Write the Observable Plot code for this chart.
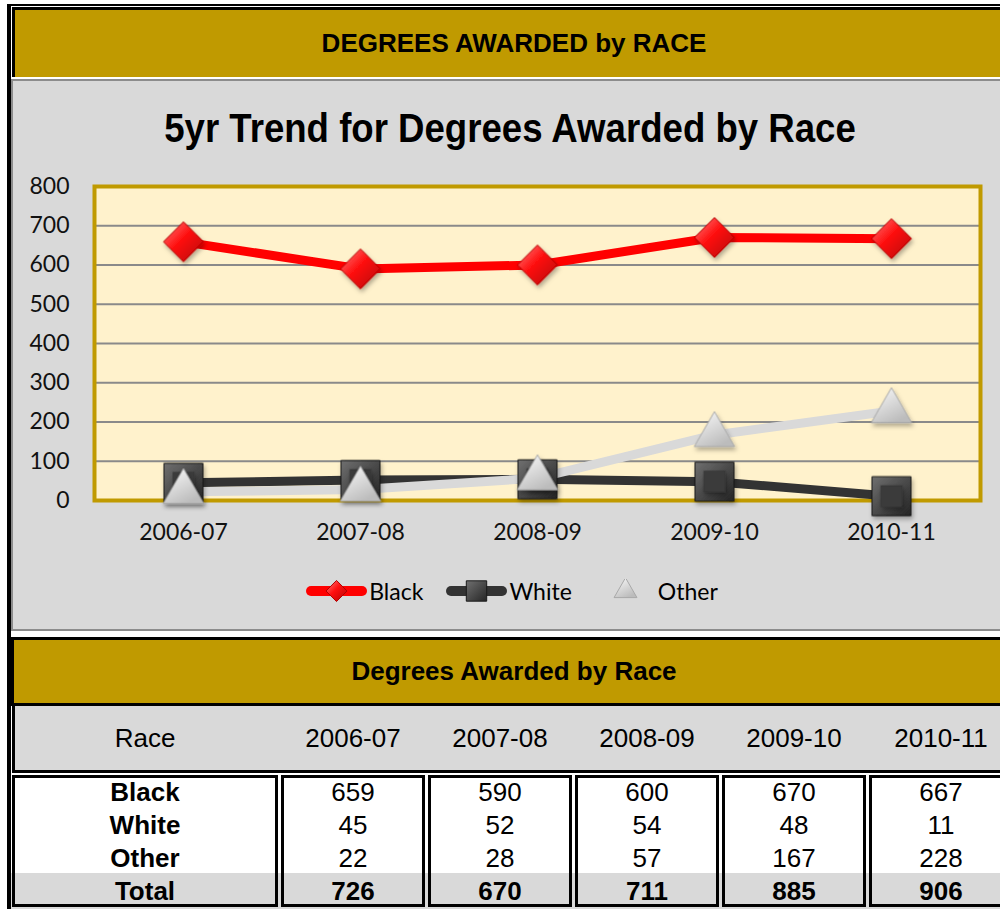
<!DOCTYPE html>
<html>
<head>
<meta charset="utf-8">
<script src="https://cdn.jsdelivr.net/npm/d3@7"></script>
<script src="https://cdn.jsdelivr.net/npm/@observablehq/plot@0.6"></script>
<style>
html,body{margin:0;padding:0;background:#fff;}
body{position:relative;width:1000px;height:909px;overflow:hidden;font-family:"Liberation Sans",Arial,sans-serif;color:#000;}
.a{position:absolute;box-sizing:content-box;}
.gold{background:#C09A00;}
.gray{background:#D9D9D9;}
.hdr{font-weight:bold;font-size:26px;text-align:center;white-space:nowrap;}
.cell{position:absolute;text-align:center;font-size:26px;height:33px;line-height:33px;white-space:nowrap;}
.box{position:absolute;box-sizing:border-box;border:3px solid #000;}
#ctitle{position:absolute;left:0;top:108px;width:1020px;height:40px;line-height:40px;font-size:40px;font-weight:bold;text-align:center;white-space:nowrap;transform:scaleX(0.915);transform-origin:510px 20px;}
#legend{position:absolute;left:0;top:579px;width:1024px;height:24px;display:flex;justify-content:center;align-items:center;font-family:Lato,sans-serif;font-size:23px;}
#legend .item{display:flex;align-items:center;height:24px;}
#legend .item span{margin-left:2px;line-height:24px;}
</style>
</head>
<body>
<div class="a" style="left:7px;top:4px;width:1010px;height:2px;background:#000"></div>
<div class="a" style="left:7px;top:4px;width:4px;height:905px;background:#000"></div>
<div class="a gold hdr" style="left:12px;top:7px;width:998px;height:67px;line-height:67px;border-top:3px solid #000;border-left:3px solid #000;">DEGREES AWARDED by RACE</div>
<div class="a gray" style="left:11px;top:79px;width:1010px;height:548px;border:2px solid #8c8c8c;"></div>
<div id="ctitle">5yr Trend for Degrees Awarded by Race</div>
<div class="a" id="chart" style="left:13px;top:170px"></div>
<div id="legend"></div>
<div class="a gold hdr" style="left:11px;top:637px;width:1000px;height:63px;line-height:63px;border-top:3px solid #000;border-bottom:3px solid #000;border-left:3px solid #000;">Degrees Awarded by Race</div>
<div class="a gray" style="left:12px;top:706px;width:1010px;height:64px;border-left:3px solid #000;border-bottom:3px solid #000;"></div>
<div class="a gray" style="left:11px;top:873px;width:1010px;height:36px;"></div>
<div id="table"></div>
<script>
// ---- data ----
const years = ["2006-07", "2007-08", "2008-09", "2009-10", "2010-11"];
const seriesNames = ["Black", "White", "Other"];
const black = [659, 590, 600, 670, 667];
const white = [45, 52, 54, 48, 11];
const other = [22, 28, 57, 167, 228];
const totals = [726, 670, 711, 885, 906];
const yTicks = [0, 100, 200, 300, 400, 500, 600, 700, 800];
const tableTitle = "Degrees Awarded by Race";
const raceHeader = "Race";
const totalLabel = "Total";

const seriesValues = [black, white, other];
const rows = seriesNames.flatMap((s, i) => years.map((yr, j) => ({series: s, year: yr, value: seriesValues[i][j]})));

// ---- styles ----
const seriesStyle = {
  Black: {line: "#FF0000", symbol: "diamond2", r: 18, fill: "url(#g-black)", stroke: "#b00000"},
  White: {line: "#333333", symbol: "square", r: 22, fill: "url(#g-white)", stroke: "#1a1a1a"},
  Other: {line: "#D9D9D9", symbol: "triangle", r: 15, fill: "url(#g-other)", stroke: "#a8a8a8"}
};

const marks = [
  Plot.frame({fill: "#FFF2CC"}),
  Plot.gridY({ticks: yTicks, stroke: "#8a8a8a", strokeOpacity: 1, strokeWidth: 2}),
  Plot.frame({stroke: "#C09A00", strokeWidth: 4}),
  Plot.axisX({tickSize: 0, tickPadding: 23, label: null}),
  Plot.axisY({ticks: yTicks, tickSize: 0, tickPadding: 25, label: null})
];
for (const s of seriesNames) {
  const st = seriesStyle[s];
  marks.push(Plot.line(rows.filter(d => d.series === s), {x: "year", y: "value", stroke: st.line, strokeWidth: 9, strokeLinejoin: "round", strokeLinecap: "butt"}));
}
for (const s of seriesNames) {
  const st = seriesStyle[s];
  const data = rows.filter(d => d.series === s);
  marks.push(Plot.dot(data, {x: "year", y: "value", symbol: st.symbol, r: st.r, fill: st.fill, stroke: st.stroke, strokeWidth: 1}));
  if (s === "White") marks.push(Plot.dot(data, {x: "year", y: "value", symbol: "square", r: 12, fill: "#3b3b3b", stroke: "#333", strokeWidth: 0.5}));
}

const chart = Plot.plot({
  width: 987,
  height: 380,
  marginLeft: 81,
  marginRight: 20,
  marginTop: 16,
  marginBottom: 50,
  style: {background: "transparent", fontFamily: "Lato, sans-serif", fontSize: "23px", color: "#111", overflow: "visible"},
  x: {type: "point", domain: years, padding: 0.5, label: null},
  y: {domain: [0, 800], label: null},
  marks
});

d3.select(chart).insert("defs", ":first-child").html(`
  <linearGradient id="g-black" x1="0" y1="0" x2="1" y2="1">
    <stop offset="0" stop-color="#ff8080"/><stop offset="0.45" stop-color="#ff1010"/><stop offset="1" stop-color="#b40000"/>
  </linearGradient>
  <linearGradient id="g-white" x1="0" y1="0" x2="1" y2="1">
    <stop offset="0" stop-color="#707070"/><stop offset="1" stop-color="#252525"/>
  </linearGradient>
  <linearGradient id="g-other" x1="0" y1="0" x2="0.6" y2="1">
    <stop offset="0" stop-color="#fcfcfc"/><stop offset="1" stop-color="#bcbcbc"/>
  </linearGradient>
  <filter id="sh" x="-50%" y="-50%" width="200%" height="200%">
    <feDropShadow dx="1.5" dy="3" stdDeviation="2" flood-color="#000" flood-opacity="0.3"/>
  </filter>`);
d3.select(chart).selectAll('g[aria-label="dot"]').attr("filter", "url(#sh)");
document.getElementById("chart").appendChild(chart);

// ---- legend ----
const legend = d3.select("#legend");
const legendR = {Black: 9.5, White: 11.5, Other: 8.5};
seriesNames.forEach((s, i) => {
  const st = seriesStyle[s];
  const item = legend.append("div").attr("class", "item").style("margin-right", i < seriesNames.length - 1 ? "23px" : "0px");
  const svg = item.append("svg").attr("width", 61).attr("height", 24);
  svg.append("line").attr("x1", 5).attr("x2", 56).attr("y1", 12).attr("y2", 12)
    .attr("stroke", st.line).attr("stroke-width", 10).attr("stroke-linecap", "round");
  const sym = {diamond2: d3.symbolDiamond2, square: d3.symbolSquare, triangle: d3.symbolTriangle}[st.symbol];
  svg.append("path").attr("transform", "translate(30.5,12)")
    .attr("d", d3.symbol(sym, Math.PI * legendR[s] ** 2)())
    .attr("fill", st.fill).attr("stroke", st.stroke).attr("stroke-width", 1);
  item.append("span").text(s);
});

// ---- table ----
const cols = [
  {l: 12, w: 266}, {l: 281, w: 144}, {l: 428, w: 144}, {l: 575, w: 144}, {l: 722, w: 144}, {l: 869, w: 144}
];
const table = d3.select("#table");
const headers = [raceHeader, ...years];
headers.forEach((h, i) => {
  table.append("div").attr("class", "cell")
    .style("left", cols[i].l + "px").style("width", cols[i].w + "px").style("top", "722px")
    .text(h);
});
cols.forEach(c => {
  table.append("div").attr("class", "box")
    .style("left", c.l + "px").style("width", c.w + "px").style("top", "775px").style("height", "132px");
});
const bodyRows = [
  {label: "Black", vals: black, bold: false},
  {label: "White", vals: white, bold: false},
  {label: "Other", vals: other, bold: false},
  {label: totalLabel, vals: totals, bold: true}
];
const rowCenters = [792, 825, 858, 891];
bodyRows.forEach((r, ri) => {
  const top = rowCenters[ri] - 16.5;
  table.append("div").attr("class", "cell")
    .style("left", cols[0].l + "px").style("width", cols[0].w + "px").style("top", top + "px")
    .style("font-weight", "bold").text(r.label);
  r.vals.forEach((v, j) => {
    table.append("div").attr("class", "cell")
      .style("left", cols[j + 1].l + "px").style("width", cols[j + 1].w + "px").style("top", top + "px")
      .style("font-weight", r.bold ? "bold" : "normal").text(v);
  });
});
</script>
</body>
</html>
